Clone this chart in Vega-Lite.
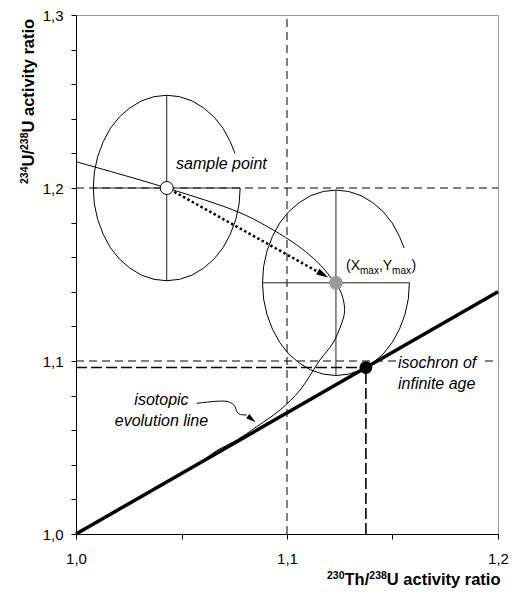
{
  "$schema": "https://vega.github.io/schema/vega-lite/v6.json",
  "width": 422,
  "height": 519,
  "autosize": {"type": "none"},
  "padding": {"left": 76, "top": 15, "right": 17, "bottom": 64},
  "background": "white",
  "config": {
    "font": "Liberation Sans",
    "view": {"stroke": "#9a9a9a", "strokeWidth": 1},
    "axis": {
      "grid": false, "domainColor": "black", "tickColor": "black", "labelColor": "black", "titleColor": "black",
      "labelFont": "Liberation Sans", "labelFontSize": 15,
      "tickSize": 5, "domainWidth": 1, "tickWidth": 1, "labelFlush": false, "labelOverlap": false
    }
  },
  "datasets": {
    "ell": [
      {"e":1,"i":0,"x":1.0753,"y":1.2201},{"e":1,"i":1,"x":1.0731,"y":1.2268},{"e":1,"i":2,"x":1.0697,"y":1.2345},{"e":1,"i":3,"x":1.0654,"y":1.2411},
      {"e":1,"i":4,"x":1.0604,"y":1.2464},{"e":1,"i":5,"x":1.0549,"y":1.2504},{"e":1,"i":6,"x":1.0490,"y":1.2528},{"e":1,"i":7,"x":1.0430,"y":1.2536},
      {"e":1,"i":8,"x":1.0370,"y":1.2528},{"e":1,"i":9,"x":1.0311,"y":1.2504},{"e":1,"i":10,"x":1.0256,"y":1.2464},{"e":1,"i":11,"x":1.0206,"y":1.2411},
      {"e":1,"i":12,"x":1.0163,"y":1.2345},{"e":1,"i":13,"x":1.0129,"y":1.2268},{"e":1,"i":14,"x":1.0103,"y":1.2183},{"e":1,"i":15,"x":1.0087,"y":1.2093},
      {"e":1,"i":16,"x":1.0082,"y":1.2000},{"e":1,"i":17,"x":1.0087,"y":1.1907},{"e":1,"i":18,"x":1.0103,"y":1.1817},{"e":1,"i":19,"x":1.0129,"y":1.1732},
      {"e":1,"i":20,"x":1.0163,"y":1.1655},{"e":1,"i":21,"x":1.0206,"y":1.1589},{"e":1,"i":22,"x":1.0256,"y":1.1536},{"e":1,"i":23,"x":1.0311,"y":1.1496},
      {"e":1,"i":24,"x":1.0370,"y":1.1472},{"e":1,"i":25,"x":1.0430,"y":1.1464},{"e":1,"i":26,"x":1.0490,"y":1.1472},{"e":1,"i":27,"x":1.0549,"y":1.1496},
      {"e":1,"i":28,"x":1.0604,"y":1.1536},{"e":1,"i":29,"x":1.0654,"y":1.1589},{"e":1,"i":30,"x":1.0697,"y":1.1655},{"e":1,"i":31,"x":1.0731,"y":1.1732},
      {"e":1,"i":32,"x":1.0757,"y":1.1817},{"e":1,"i":33,"x":1.0773,"y":1.1907},{"e":1,"i":34,"x":1.0778,"y":1.2000},
      {"e":2,"i":0,"x":1.1555,"y":1.1653},{"e":2,"i":1,"x":1.1533,"y":1.1720},{"e":2,"i":2,"x":1.1499,"y":1.1797},{"e":2,"i":3,"x":1.1456,"y":1.1863},
      {"e":2,"i":4,"x":1.1406,"y":1.1916},{"e":2,"i":5,"x":1.1351,"y":1.1956},{"e":2,"i":6,"x":1.1292,"y":1.1980},{"e":2,"i":7,"x":1.1232,"y":1.1988},
      {"e":2,"i":8,"x":1.1172,"y":1.1980},{"e":2,"i":9,"x":1.1113,"y":1.1956},{"e":2,"i":10,"x":1.1058,"y":1.1916},{"e":2,"i":11,"x":1.1008,"y":1.1863},
      {"e":2,"i":12,"x":1.0965,"y":1.1797},{"e":2,"i":13,"x":1.0931,"y":1.1720},{"e":2,"i":14,"x":1.0905,"y":1.1635},{"e":2,"i":15,"x":1.0889,"y":1.1545},
      {"e":2,"i":16,"x":1.0884,"y":1.1452},{"e":2,"i":17,"x":1.0889,"y":1.1359},{"e":2,"i":18,"x":1.0905,"y":1.1269},{"e":2,"i":19,"x":1.0931,"y":1.1184},
      {"e":2,"i":20,"x":1.0965,"y":1.1108},{"e":2,"i":21,"x":1.1008,"y":1.1041},{"e":2,"i":22,"x":1.1058,"y":1.0988},{"e":2,"i":23,"x":1.1113,"y":1.0948},
      {"e":2,"i":24,"x":1.1172,"y":1.0924},{"e":2,"i":25,"x":1.1232,"y":1.0916},{"e":2,"i":26,"x":1.1292,"y":1.0924},{"e":2,"i":27,"x":1.1351,"y":1.0948},
      {"e":2,"i":28,"x":1.1406,"y":1.0988},{"e":2,"i":29,"x":1.1456,"y":1.1041},{"e":2,"i":30,"x":1.1499,"y":1.1108},{"e":2,"i":31,"x":1.1533,"y":1.1184},
      {"e":2,"i":32,"x":1.1559,"y":1.1269},{"e":2,"i":33,"x":1.1575,"y":1.1359},{"e":2,"i":34,"x":1.1580,"y":1.1452}
    ],
    "evo": [
      {"i":0,"x":1.0000,"y":1.2152},{"i":1,"x":1.0430,"y":1.2000},{"i":2,"x":1.0777,"y":1.1857},{"i":3,"x":1.0935,"y":1.1757},
      {"i":4,"x":1.1046,"y":1.1671},{"i":5,"x":1.1125,"y":1.1594},{"i":6,"x":1.1172,"y":1.1536},{"i":7,"x":1.1213,"y":1.1474},
      {"i":8,"x":1.1251,"y":1.1410},{"i":9,"x":1.1270,"y":1.1335},{"i":10,"x":1.1272,"y":1.1276},{"i":11,"x":1.1256,"y":1.1208},
      {"i":12,"x":1.1218,"y":1.1104},{"i":13,"x":1.1156,"y":1.1006},{"i":14,"x":1.1062,"y":1.0832},{"i":15,"x":1.0967,"y":1.0717},
      {"i":16,"x":1.0856,"y":1.0620},{"i":17,"x":1.0762,"y":1.0543},{"i":18,"x":1.0667,"y":1.0482},{"i":19,"x":1.0588,"y":1.0414},
      {"i":20,"x":1.0300,"y":1.0210},{"i":21,"x":1.0000,"y":1.0000}
    ],
    "iso": [{"x":1.0,"y":1.0},{"x":1.2,"y":1.14}],
    "segs": [
      {"k":"thin","x":1.0,"y":1.2,"x2":1.2,"y2":1.2},
      {"k":"thin","x":1.0,"y":1.1,"x2":1.1517,"y2":1.1},
      {"k":"thin","x":1.1938,"y":1.1,"x2":1.2,"y2":1.1},
      {"k":"thin","x":1.1,"y":1.0,"x2":1.1,"y2":1.3},
      {"k":"thick","x":1.0,"y":1.0962,"x2":1.1374,"y2":1.0962},
      {"k":"thick","x":1.1374,"y":1.0,"x2":1.1374,"y2":1.0962},
      {"k":"cross","x":1.043,"y":1.1464,"x2":1.043,"y2":1.2536},
      {"k":"cross","x":1.0082,"y":1.2,"x2":1.0778,"y2":1.2},
      {"k":"cross","x":1.1232,"y":1.0916,"x2":1.1232,"y2":1.1988},
      {"k":"cross","x":1.0884,"y":1.1452,"x2":1.158,"y2":1.1452},
      {"k":"dots","x":1.0445,"y":1.1992,"x2":1.1156,"y2":1.1509}
    ],
    "curv": [
      {"i":0,"x":1.0572,"y":1.0755},{"i":1,"x":1.0722,"y":1.0765},{"i":2,"x":1.0754,"y":1.0736},
      {"i":3,"x":1.0762,"y":1.0707},{"i":4,"x":1.0777,"y":1.0692},{"i":5,"x":1.0809,"y":1.0688}
    ]
  },
  "encoding": {
    "x": {
      "field": "x", "type": "quantitative",
      "scale": {"domain": [1, 1.2], "nice": false, "zero": false},
      "axis": {
        "values": [1, 1.05, 1.1, 1.15, 1.2],
        "labelExpr": "abs(datum.value*10 - round(datum.value*10)) < 0.001 ? replace(format(datum.value, '.1f'), '.', ',') : ''",
        "labelPadding": 12,
        "title": null
      }
    },
    "y": {
      "field": "y", "type": "quantitative",
      "scale": {"domain": [1, 1.3], "nice": false, "zero": false},
      "axis": {
        "values": [1, 1.02, 1.04, 1.06, 1.08, 1.1, 1.12, 1.14, 1.16, 1.18, 1.2, 1.22, 1.24, 1.26, 1.28, 1.3],
        "labelExpr": "abs(datum.value*10 - round(datum.value*10)) < 0.001 ? replace(format(datum.value, '.1f'), '.', ',') : ''",
        "labelPadding": 8,
        "title": null
      }
    }
  },
  "layer": [
    {
      "data": {"name": "segs"},
      "transform": [{"filter": "datum.k === 'thin'"}],
      "mark": {"type": "rule", "color": "black", "strokeWidth": 1, "strokeDash": [8, 5]},
      "encoding": {"x2": {"field": "x2"}, "y2": {"field": "y2"}}
    },
    {
      "data": {"name": "segs"},
      "transform": [{"filter": "datum.k === 'thick'"}],
      "mark": {"type": "rule", "color": "black", "strokeWidth": 1.6, "strokeDash": [11, 4]},
      "encoding": {"x2": {"field": "x2"}, "y2": {"field": "y2"}}
    },
    {
      "data": {"name": "segs"},
      "transform": [{"filter": "datum.k === 'cross'"}],
      "mark": {"type": "rule", "color": "#222222", "strokeWidth": 1},
      "encoding": {"x2": {"field": "x2"}, "y2": {"field": "y2"}}
    },
    {
      "data": {"name": "ell"},
      "mark": {"type": "line", "color": "black", "strokeWidth": 1},
      "encoding": {"detail": {"field": "e"}, "order": {"field": "i", "type": "quantitative"}}
    },
    {
      "data": {"name": "evo"},
      "mark": {"type": "line", "color": "black", "strokeWidth": 1, "interpolate": "catmull-rom"},
      "encoding": {"order": {"field": "i", "type": "quantitative"}}
    },
    {
      "data": {"name": "curv"},
      "mark": {"type": "line", "color": "black", "strokeWidth": 1, "interpolate": "catmull-rom"},
      "encoding": {"order": {"field": "i", "type": "quantitative"}}
    },
    {
      "data": {"name": "iso"},
      "mark": {"type": "line", "color": "black", "strokeWidth": 3.5},
      "encoding": {}
    },
    {
      "data": {"name": "segs"},
      "transform": [{"filter": "datum.k === 'dots'"}],
      "mark": {"type": "rule", "color": "black", "strokeWidth": 2.5, "strokeDash": [2.5, 2.5]},
      "encoding": {"x2": {"field": "x2"}, "y2": {"field": "y2"}}
    },
    {
      "data": {"values": [{"x": 1.1171, "y": 1.15}]},
      "mark": {"type": "point", "shape": "M 1 0 L -1 -0.55 L -1 0.55 Z", "filled": true, "color": "black", "opacity": 1, "size": 144, "angle": 29},
      "encoding": {}
    },
    {
      "data": {"values": [{"x": 1.0833, "y": 1.0664}]},
      "mark": {"type": "point", "shape": "M 1 0 L -1 -0.55 L -1 0.55 Z", "filled": true, "color": "black", "opacity": 1, "size": 100, "angle": 38},
      "encoding": {}
    },
    {
      "data": {"values": [{"x": 1.043, "y": 1.2}]},
      "mark": {"type": "point", "shape": "circle", "filled": true, "fill": "white", "stroke": "black", "strokeWidth": 1, "opacity": 1, "size": 170},
      "encoding": {}
    },
    {
      "data": {"values": [{"x": 1.1232, "y": 1.1452}]},
      "mark": {"type": "point", "shape": "circle", "filled": true, "color": "#9a9a9a", "opacity": 1, "size": 190},
      "encoding": {}
    },
    {
      "data": {"values": [{"x": 1.1374, "y": 1.0962}]},
      "mark": {"type": "point", "shape": "circle", "filled": true, "color": "black", "opacity": 1, "size": 165},
      "encoding": {}
    },
    {
      "data": {"values": [{"x": 1.0474, "y": 1.211, "t": "sample point"}]},
      "mark": {"type": "text", "align": "left", "baseline": "alphabetic", "fontStyle": "italic", "fontSize": 16, "color": "black"},
      "encoding": {"text": {"field": "t"}}
    },
    {
      "data": {"values": [{"x": 1.1526, "y": 1.0958, "t": "isochron of\ninfinite age"}]},
      "mark": {"type": "text", "align": "left", "baseline": "alphabetic", "fontStyle": "italic", "fontSize": 16, "lineBreak": "\n", "lineHeight": 21, "color": "black"},
      "encoding": {"text": {"field": "t"}}
    },
    {
      "data": {"values": [{"x": 1.0405, "y": 1.0746, "t": "isotopic\nevolution line"}]},
      "mark": {"type": "text", "align": "center", "baseline": "alphabetic", "fontStyle": "italic", "fontSize": 16, "lineBreak": "\n", "lineHeight": 21.5, "color": "black"},
      "encoding": {"text": {"field": "t"}}
    },
    {
      "data": {"values": [{"x": 1.12796, "y": 1.1526, "t": "(X"}]},
      "mark": {"type": "text", "align": "left", "baseline": "alphabetic", "fontSize": 14, "color": "black", "dx": 0},
      "encoding": {"text": {"field": "t"}}
    },
    {
      "data": {"values": [{"x": 1.12796, "y": 1.1526, "t": "max"}]},
      "mark": {"type": "text", "align": "left", "baseline": "alphabetic", "fontSize": 10, "color": "black", "dx": 14, "dy": 3.5},
      "encoding": {"text": {"field": "t"}}
    },
    {
      "data": {"values": [{"x": 1.12796, "y": 1.1526, "t": ","}]},
      "mark": {"type": "text", "align": "left", "baseline": "alphabetic", "fontSize": 14, "color": "black", "dx": 32.9},
      "encoding": {"text": {"field": "t"}}
    },
    {
      "data": {"values": [{"x": 1.12796, "y": 1.1526, "t": "Y"}]},
      "mark": {"type": "text", "align": "left", "baseline": "alphabetic", "fontSize": 14, "color": "black", "dx": 36.8},
      "encoding": {"text": {"field": "t"}}
    },
    {
      "data": {"values": [{"x": 1.12796, "y": 1.1526, "t": "max"}]},
      "mark": {"type": "text", "align": "left", "baseline": "alphabetic", "fontSize": 10, "color": "black", "dx": 46.1, "dy": 3.5},
      "encoding": {"text": {"field": "t"}}
    },
    {
      "data": {"values": [{"x": 1.12796, "y": 1.1526, "t": ")"}]},
      "mark": {"type": "text", "align": "left", "baseline": "alphabetic", "fontSize": 14, "color": "black", "dx": 65.5},
      "encoding": {"text": {"field": "t"}}
    },
    {
      "data": {"values": [{"x": 1.0, "y": 1.0, "t": "230"}]},
      "mark": {"type": "text", "align": "left", "baseline": "alphabetic", "fontSize": 10.5, "fontWeight": "bold", "color": "black", "dx": 251, "dy": 45},
      "encoding": {"text": {"field": "t"}}
    },
    {
      "data": {"values": [{"x": 1.0, "y": 1.0, "t": "Th/"}]},
      "mark": {"type": "text", "align": "left", "baseline": "alphabetic", "fontSize": 16.5, "fontWeight": "bold", "color": "black", "dx": 268.5, "dy": 51},
      "encoding": {"text": {"field": "t"}}
    },
    {
      "data": {"values": [{"x": 1.0, "y": 1.0, "t": "238"}]},
      "mark": {"type": "text", "align": "left", "baseline": "alphabetic", "fontSize": 10.5, "fontWeight": "bold", "color": "black", "dx": 293.3, "dy": 45},
      "encoding": {"text": {"field": "t"}}
    },
    {
      "data": {"values": [{"x": 1.0, "y": 1.0, "t": "U activity ratio"}]},
      "mark": {"type": "text", "align": "left", "baseline": "alphabetic", "fontSize": 16.5, "fontWeight": "bold", "color": "black", "dx": 310.8, "dy": 51},
      "encoding": {"text": {"field": "t"}}
    },
    {
      "data": {"values": [{"x": 1.0, "y": 1.3, "t": "234"}]},
      "mark": {"type": "text", "align": "left", "baseline": "alphabetic", "angle": 270, "fontSize": 10.5, "fontWeight": "bold", "color": "black", "dx": -169, "dy": -48.5},
      "encoding": {"text": {"field": "t"}}
    },
    {
      "data": {"values": [{"x": 1.0, "y": 1.3, "t": "U/"}]},
      "mark": {"type": "text", "align": "left", "baseline": "alphabetic", "angle": 270, "fontSize": 16.5, "fontWeight": "bold", "color": "black", "dx": -151.5, "dy": -42.5},
      "encoding": {"text": {"field": "t"}}
    },
    {
      "data": {"values": [{"x": 1.0, "y": 1.3, "t": "238"}]},
      "mark": {"type": "text", "align": "left", "baseline": "alphabetic", "angle": 270, "fontSize": 10.5, "fontWeight": "bold", "color": "black", "dx": -135, "dy": -48.5},
      "encoding": {"text": {"field": "t"}}
    },
    {
      "data": {"values": [{"x": 1.0, "y": 1.3, "t": "U activity ratio"}]},
      "mark": {"type": "text", "align": "left", "baseline": "alphabetic", "angle": 270, "fontSize": 16.5, "fontWeight": "bold", "color": "black", "dx": -117.5, "dy": -42.5},
      "encoding": {"text": {"field": "t"}}
    }
  ]
}
